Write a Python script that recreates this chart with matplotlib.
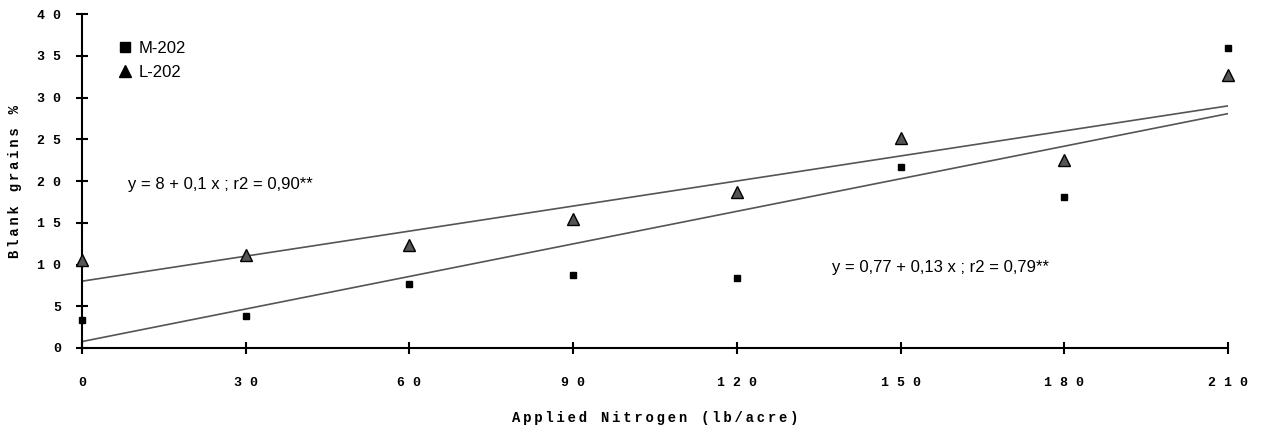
import numpy as np
import matplotlib.pyplot as plt
from matplotlib.lines import Line2D

nitrogen = [0, 30, 60, 90, 120, 150, 180, 210]
m202 = [3.4, 3.8, 7.7, 8.7, 8.4, 21.7, 18.1, 35.9]
l202 = [10.5, 11.1, 12.3, 15.4, 18.7, 25.1, 22.5, 32.7]

# regression lines as given in the chart
fit_l = (8.0, 0.1)
fit_m = (0.77, 0.13)

x_ticks = [0, 30, 60, 90, 120, 150, 180, 210]
y_ticks = [0, 5, 10, 15, 20, 25, 30, 35, 40]


def spaced(s, sep=' '):
    return sep.join(list(str(s)))


fig = plt.figure(figsize=(12.69, 4.30), dpi=100)
ax = fig.add_axes([0.0646, 0.1907, 0.9031, 0.7767])

xs = np.array([0, 210])
ax.plot(xs, fit_l[0] + fit_l[1] * xs, color='#555555', linewidth=1.2, zorder=2)
ax.plot(xs, fit_m[0] + fit_m[1] * xs, color='#555555', linewidth=1.2, zorder=2)

ax.plot(nitrogen, m202, 's', color='black', markersize=4.5, zorder=3, clip_on=False)
ax.plot(nitrogen, l202, '^', markerfacecolor='#555555', markeredgecolor='black',
        markeredgewidth=1.0, markersize=9, zorder=3, clip_on=False)

ax.set_xlim(0, 210)
ax.set_ylim(0, 40)

for s in ['top', 'right']:
    ax.spines[s].set_visible(False)
for s in ['left', 'bottom']:
    ax.spines[s].set_linewidth(1.5)

mono = {'family': ['Liberation Mono', 'DejaVu Sans'], 'weight': 'bold'}

ax.set_xticks(x_ticks)
ax.set_xticklabels([spaced(t) for t in x_ticks], fontdict=mono, fontsize=9.5)
ax.set_yticks(y_ticks)
ax.set_yticklabels([spaced(t) for t in y_ticks], fontdict=mono, fontsize=9.5)
ax.tick_params(axis='both', direction='inout', length=8, width=1.5)
ax.tick_params(axis='x', pad=17)
ax.tick_params(axis='y', pad=11)

ax.set_xlabel(spaced('Applied Nitrogen (lb/acre)', '\u2009'), fontdict=mono,
              fontsize=10, labelpad=16)
ax.set_ylabel(spaced('Blank grains %', '\u2009'), fontdict=mono, fontsize=10, labelpad=11)

ax.text(8.4, 19.6, 'y = 8 + 0,1 x ; r2 = 0,90**', family='Liberation Sans',
        fontsize=12, va='center')
ax.text(137.4, 9.7, 'y = 0,77 + 0,13 x ; r2 = 0,79**', family='Liberation Sans',
        fontsize=12, va='center')

handles = [Line2D([], [], marker='s', color='black', linestyle='none', markersize=7),
           Line2D([], [], marker='^', color='black', linestyle='none', markersize=8)]
ax.legend(handles, ['M-202', 'L-202'], loc='upper left', bbox_to_anchor=(0.02, 0.965),
          frameon=False, prop={'family': 'Liberation Sans', 'size': 12},
          handlelength=0.6, handletextpad=0.55, labelspacing=0.55)

fig.savefig('out.png', dpi=100)
